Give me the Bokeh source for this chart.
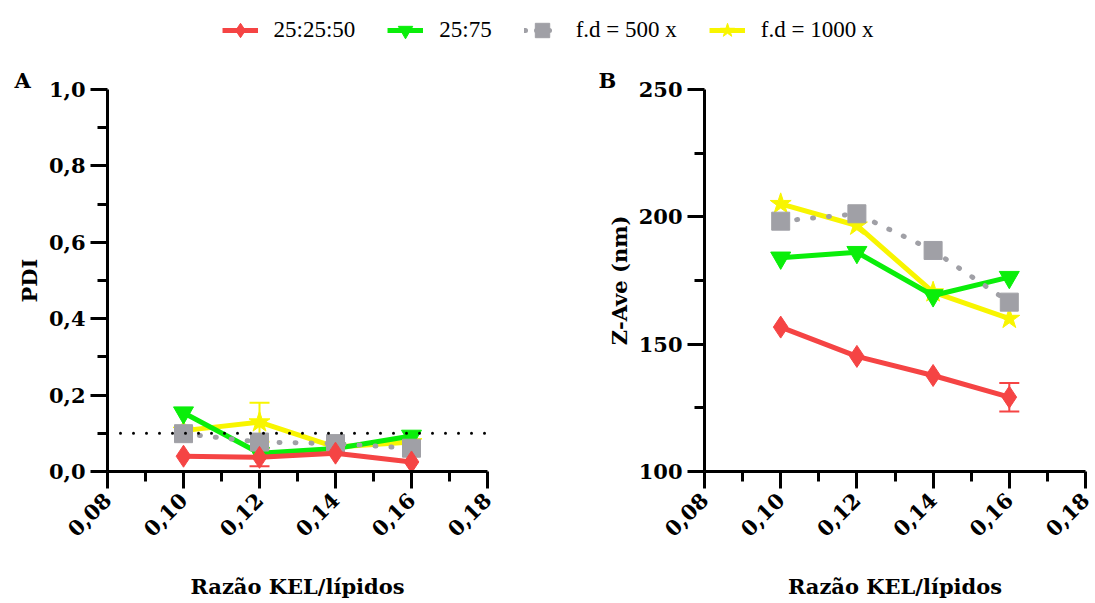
from bokeh.plotting import figure
from bokeh.layouts import column, row
from bokeh.models import (ColumnDataSource, Range1d, FixedTicker, CustomJSTickFormatter,
                          Span, Whisker, TeeHead, Title, Legend, LegendItem)
from bokeh.embed import file_html
from bokeh.resources import INLINE
from math import pi

# ---------------- data ----------------
ratio = [0.10, 0.12, 0.14, 0.16]
series_names = ["25:25:50", "25:75", "f.d = 500 x", "f.d = 1000 x"]

pdi_252550 = [0.040, 0.037, 0.048, 0.025]
pdi_252550_err = [0.0, 0.023, 0.0, 0.0]
pdi_2575 = [0.154, 0.048, 0.060, 0.093]
pdi_2575_err = [0.0, 0.0, 0.0, 0.0]
pdi_fd500 = [0.099, 0.077, 0.073, 0.061]
pdi_fd500_err = [0.0, 0.0, 0.0, 0.0]
pdi_fd1000 = [0.107, 0.129, 0.064, 0.077]
pdi_fd1000_err = [0.0, 0.051, 0.0, 0.0]

zave_252550 = [156.7, 145.2, 137.7, 129.2]
zave_252550_err = [0.0, 0.0, 0.0, 5.6]
zave_2575 = [183.9, 186.1, 169.1, 176.3]
zave_2575_err = [0.0, 0.0, 0.0, 0.0]
zave_fd500 = [198.3, 201.2, 186.8, 166.5]
zave_fd500_err = [0.0, 0.0, 0.0, 0.0]
zave_fd1000 = [205.1, 196.6, 170.4, 160.0]
zave_fd1000_err = [0.0, 0.0, 0.0, 0.0]

pdi_reference = 0.1

x_ticks = [0.08, 0.10, 0.12, 0.14, 0.16, 0.18]
x_minor = [0.09, 0.11, 0.13, 0.15, 0.17]
pdi_ticks = [0.0, 0.2, 0.4, 0.6, 0.8, 1.0]
pdi_minor = [0.1, 0.3, 0.5, 0.7, 0.9]
zave_ticks = [100, 150, 200, 250]
zave_minor = [125, 175, 225]

# ---------------- styles ----------------
RED = "#F54444"
GREEN = "#0AEE0A"
GREY = "#A0A0A6"
YELLOW = "#F8F500"
FONT = "DejaVu Serif"
NAN = float("nan")

styles = {
    "25:25:50": dict(color=RED, marker="diamond", size=22, dash="solid"),
    "25:75": dict(color=GREEN, marker="inverted_triangle", size=20, dash="solid"),
    "f.d = 500 x": dict(color=GREY, marker="square", size=18, dash="1 15"),
    "f.d = 1000 x": dict(color=YELLOW, marker="star", size=22, dash="solid"),
}


def style_axes(p, yticks, yminor, yfmt, ylabel):
    p.xaxis.ticker = FixedTicker(ticks=x_ticks, minor_ticks=x_minor)
    p.yaxis.ticker = FixedTicker(ticks=yticks, minor_ticks=yminor)
    p.xaxis.formatter = CustomJSTickFormatter(code="return tick.toFixed(2).replace('.', ',');")
    p.yaxis.formatter = CustomJSTickFormatter(code=yfmt)
    p.xaxis.major_label_orientation = pi / 4
    p.xaxis.axis_label = "Razão KEL/lípidos"
    p.yaxis.axis_label = ylabel
    for ax in (p.xaxis[0], p.yaxis[0]):
        ax.axis_line_width = 3
        ax.axis_line_color = "black"
        ax.major_tick_line_width = 3
        ax.minor_tick_line_width = 3
        ax.major_tick_line_color = "black"
        ax.minor_tick_line_color = "black"
        ax.major_tick_out = 17
        ax.major_tick_in = 0
        ax.minor_tick_out = 10
        ax.minor_tick_in = 0
        ax.major_label_text_font = FONT
        ax.major_label_text_font_style = "bold"
        ax.major_label_text_font_size = "21px"
        ax.major_label_text_color = "black"
        ax.axis_label_text_font = FONT
        ax.axis_label_text_font_style = "bold"
        ax.axis_label_text_font_size = "21px"
        ax.axis_label_text_color = "black"
    p.xaxis.major_label_standoff = 8
    p.yaxis.major_label_standoff = 5
    p.xaxis.axis_label_standoff = 28
    p.yaxis.axis_label_standoff = 4
    p.xgrid.visible = False
    p.ygrid.visible = False
    p.outline_line_color = None


def draw_series(p, yvals, errs, order):
    for name in order:
        st = styles[name]
        y = yvals[name]
        e = errs[name]
        idx = [i for i in range(len(ratio)) if e[i] > 0]
        if idx:
            src = ColumnDataSource(dict(x=[ratio[i] for i in idx],
                                        lo=[y[i] - e[i] for i in idx],
                                        hi=[y[i] + e[i] for i in idx]))
            w = Whisker(base="x", lower="lo", upper="hi", source=src, dimension="height",
                        line_color=st["color"], line_width=2,
                        upper_head=TeeHead(size=20, line_color=st["color"], line_width=2),
                        lower_head=TeeHead(size=20, line_color=st["color"], line_width=2),
                        level="underlay")
            p.add_layout(w)
    for name in order:
        st = styles[name]
        src = ColumnDataSource(dict(x=ratio, y=yvals[name]))
        if st["dash"] == "solid":
            p.line("x", "y", source=src, line_color=st["color"], line_width=5)
        else:
            p.line("x", "y", source=src, line_color=st["color"], line_width=5,
                   line_dash=st["dash"], line_cap="round")
        p.scatter("x", "y", source=src, marker=st["marker"], size=st["size"],
                  fill_color=st["color"], line_color=st["color"])


def panel_title(p, letter, offset):
    t = Title(text=letter, align="left", offset=offset, standoff=-6,
              text_font=FONT, text_font_style="bold", text_font_size="21px",
              text_color="black")
    p.add_layout(t, "above")


order = ["f.d = 1000 x", "25:75", "f.d = 500 x", "25:25:50"]

# ---------------- panel A ----------------
pA = figure(width=560, height=543, x_range=Range1d(0.08, 0.18), y_range=Range1d(0.0, 1.0),
            output_backend="svg", toolbar_location=None,
            min_border_left=107, min_border_right=73, min_border_top=29, min_border_bottom=132)
style_axes(pA, pdi_ticks, pdi_minor, "return tick.toFixed(1).replace('.', ',');", "PDI")
pA.add_layout(Span(location=pdi_reference, dimension="width", line_color="black",
                   line_width=3, line_dash="0 13", line_cap="round"))
draw_series(pA,
            {"25:25:50": pdi_252550, "25:75": pdi_2575, "f.d = 500 x": pdi_fd500, "f.d = 1000 x": pdi_fd1000},
            {"25:25:50": pdi_252550_err, "25:75": pdi_2575_err, "f.d = 500 x": pdi_fd500_err,
             "f.d = 1000 x": pdi_fd1000_err},
            order)
panel_title(pA, "A", -93)

# ---------------- panel B ----------------
pB = figure(width=535, height=543, x_range=Range1d(0.08, 0.18), y_range=Range1d(100, 250),
            output_backend="svg", toolbar_location=None,
            min_border_left=144, min_border_right=10, min_border_top=29, min_border_bottom=132)
style_axes(pB, zave_ticks, zave_minor, "return tick.toFixed(0);", "Z-Ave (nm)")
draw_series(pB,
            {"25:25:50": zave_252550, "25:75": zave_2575, "f.d = 500 x": zave_fd500, "f.d = 1000 x": zave_fd1000},
            {"25:25:50": zave_252550_err, "25:75": zave_2575_err, "f.d = 500 x": zave_fd500_err,
             "f.d = 1000 x": zave_fd1000_err},
            order)
panel_title(pB, "B", -106)

# ---------------- legend ----------------
lf = figure(width=1095, height=60, x_range=Range1d(0, 1), y_range=Range1d(0, 1),
            output_backend="svg", toolbar_location=None,
            min_border=0)
lf.axis.visible = False
lf.xgrid.visible = False
lf.ygrid.visible = False
lf.outline_line_color = None
items = []
for name in series_names:
    st = styles[name]
    empty = ColumnDataSource(dict(x=[NAN], y=[NAN]))
    if st["dash"] == "solid":
        rl = lf.line("x", "y", source=empty, line_color=st["color"], line_width=5)
    else:
        rl = lf.line("x", "y", source=empty, line_color=st["color"], line_width=5,
                     line_dash="1 11", line_cap="round")
    rs = lf.scatter("x", "y", source=empty, marker=st["marker"], size=st["size"],
                    fill_color=st["color"], line_color=st["color"])
    items.append(LegendItem(label=name, renderers=[rl, rs]))
leg = Legend(items=items, orientation="horizontal", location="center",
             label_text_font="Liberation Serif", label_text_font_size="23px",
             label_text_color="black", glyph_width=36, glyph_height=36,
             spacing=32, label_standoff=16, border_line_color=None,
             background_fill_alpha=0, padding=0, margin=0)
lf.add_layout(leg, "center")

layout = column(lf, row(pA, pB, spacing=0), spacing=0)
open("out.html", "w").write(file_html(layout, INLINE))
